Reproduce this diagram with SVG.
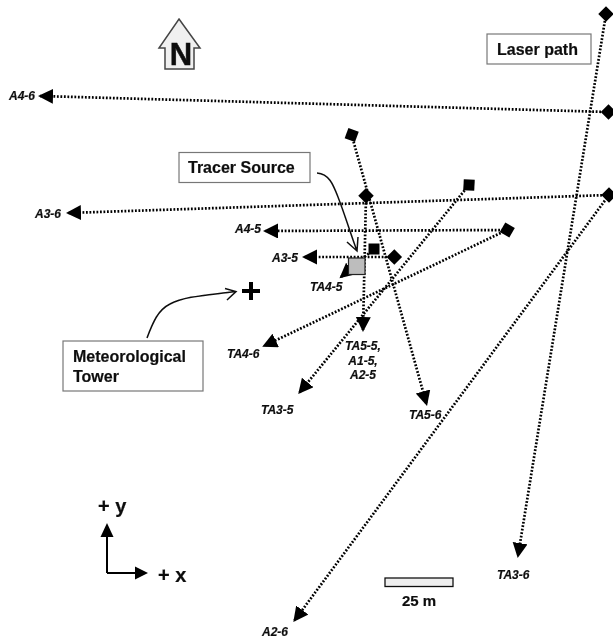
<svg xmlns="http://www.w3.org/2000/svg" width="613" height="638" viewBox="0 0 613 638">
<style>
text{font-family:"Liberation Sans",Arial,sans-serif;font-weight:bold;fill:#111;stroke:#111;stroke-width:.2}
.l{font-size:12px;font-style:italic}
.b{font-size:16px}
.box{fill:#fff;stroke:#777;stroke-width:1.2}
.p{fill:none;stroke:#000;stroke-width:2.7;stroke-dasharray:1.8 1.7;marker-end:url(#h)}
.lead{fill:none;stroke:#111;stroke-width:1.5}
.m{fill:#000}
</style>
<defs>
<marker id="h" markerUnits="userSpaceOnUse" markerWidth="18" markerHeight="18" refX="13" refY="7.500" orient="auto"><path d="M0,0L15,7.500L0,15Z" fill="#000"/></marker>
<rect id="s" x="-5.500" y="-5.500" width="11" height="11" class="m"/>
<filter id="soft" x="0" y="0" width="100%" height="100%"><feGaussianBlur stdDeviation="0.2"/></filter>
</defs>
<g filter="url(#soft)">
<g id="connectors">
<path class="p" d="M608,112L40,96"/>
<path class="p" d="M609,195L68,213"/>
<path class="p" d="M507,230L265,231"/>
<path class="p" d="M394,257L304,257"/>
<path class="p" d="M374,249L341,277"/>
<path class="p" d="M366,196L363,330"/>
<path class="p" d="M351.700,135L426.500,404"/>
<path class="p" d="M469,185L299.500,392.500"/>
<path class="p" d="M507,230L264,346"/>
<path class="p" d="M606,14L518,556"/>
<path class="p" d="M609,195L294.500,620.500"/>
<path class="lead" d="M147,338C153,322 158,310 170,304C185,296 210,295 235,291.500M225,288.500L236,291.500L227,300"/>
<path class="lead" d="M317,173C329,174 333,184 338,197C345,215 351,235 357,251M347,242L357,251L358,237"/>
<path d="M107,573L107,535" stroke="#000" stroke-width="2" fill="none"/>
<path d="M107,573L136,573" stroke="#000" stroke-width="2" fill="none"/>
<path d="M107,523L113.500,537L100.500,537Z" class="m"/>
<path d="M148,573L135,566.500L135,579.500Z" class="m"/>
</g>
<g id="source"><rect x="348.500" y="258" width="16.500" height="16.500" fill="#bdbdbd" stroke="#222" stroke-width="1.2"/></g>
<g id="endpoints">
<use href="#s" transform="translate(351.700,135) rotate(20)"/>
<use href="#s" transform="translate(366,195.700) rotate(45)"/>
<use href="#s" transform="translate(469,185) rotate(3)"/>
<use href="#s" transform="translate(507.300,230) rotate(30)"/>
<use href="#s" transform="translate(394.300,257) rotate(45)"/>
<use href="#s" transform="translate(374,249)"/>
<use href="#s" transform="translate(606,14) rotate(45)"/>
<use href="#s" transform="translate(608.500,112) rotate(45)"/>
<use href="#s" transform="translate(609,195) rotate(45)"/>
</g>
<g id="north"><path d="M179,19L200,48L194,48L194,69L165,69L165,48L159,48Z" fill="#f0f0f0" stroke="#444" stroke-width="1.500"/><text x="181" y="65" text-anchor="middle" style="font-size:31px;stroke-width:.5">N</text></g>
<g id="laser-path"><rect class="box" x="487" y="34" width="104" height="30"/><text class="b" x="497" y="55">Laser path</text></g>
<g id="tracer-source"><rect class="box" x="179" y="152.500" width="131" height="30"/><text class="b" x="188" y="173">Tracer Source</text></g>
<g id="met-tower"><rect class="box" x="63" y="341" width="140" height="50"/><text class="b" x="73" y="362">Meteorological</text><text class="b" x="73" y="382">Tower</text></g>
<g id="tower-mark"><path d="M242,291H260M251,282V300" stroke="#000" stroke-width="4" fill="none"/></g>
<g id="labels">
<text class="l" x="9" y="100">A4-6</text>
<text class="l" x="35" y="218">A3-6</text>
<text class="l" x="235" y="233">A4-5</text>
<text class="l" x="272" y="262">A3-5</text>
<text class="l" x="310" y="291">TA4-5</text>
<text class="l" x="227" y="358">TA4-6</text>
<text class="l" x="363" y="350" text-anchor="middle">TA5-5,</text>
<text class="l" x="363" y="365" text-anchor="middle">A1-5,</text>
<text class="l" x="363" y="379" text-anchor="middle">A2-5</text>
<text class="l" x="261" y="414">TA3-5</text>
<text class="l" x="409" y="419">TA5-6</text>
<text class="l" x="497" y="579">TA3-6</text>
<text class="l" x="262" y="636">A2-6</text>
</g>
<g id="axes"><text x="98" y="513" style="font-size:20px">+ y</text><text x="158" y="582" style="font-size:20px">+ x</text></g>
<g id="scale"><rect x="385" y="578" width="68" height="8.500" fill="#eee" stroke="#111" stroke-width="1.300"/><text x="419" y="606" text-anchor="middle" style="font-size:15px">25 m</text></g>
</g>
</svg>
